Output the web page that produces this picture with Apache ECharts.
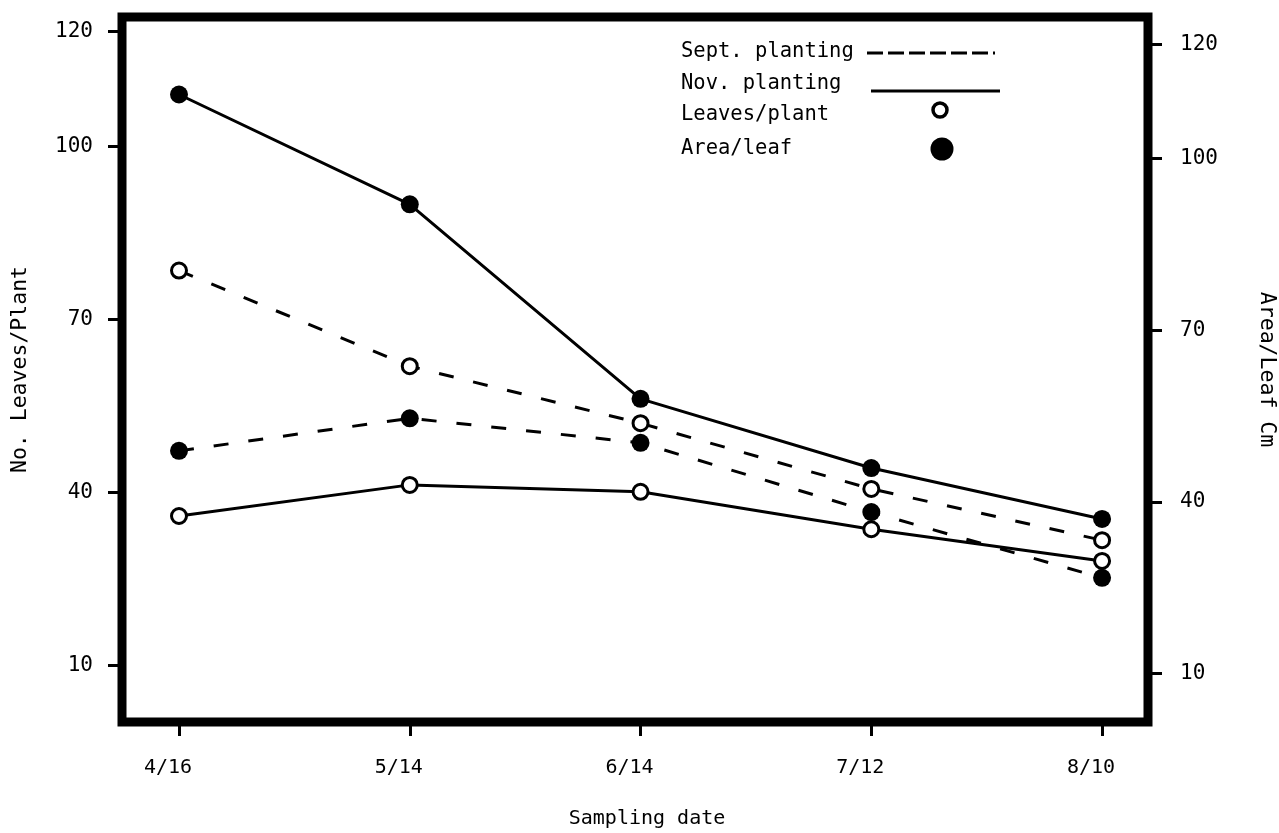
<!DOCTYPE html>
<html>
<head>
<meta charset="utf-8">
<script src="https://cdn.jsdelivr.net/npm/echarts@6/dist/echarts.min.js"></script>
<style>
  html, body { margin: 0; padding: 0; background: #fff; }
  #chart { width: 1279px; height: 833px; }
</style>
</head>
<body>
<div id="chart"></div>
<script>
// ---- data ----
const dates = ['4/16', '5/14', '6/14', '7/12', '8/10'];
const yTicks = [10, 40, 70, 100, 120];
// No. leaves per plant (left axis)
const septLeaves = [78.5, 61.9, 52.0, 40.6, 31.7];
const novLeaves  = [35.9, 41.3, 40.1, 33.6, 28.1];
// Area per leaf, cm (right axis)
const novArea  = [111.2, 92.0, 58.0, 45.9, 37.0];
const septArea = [48.9, 54.6, 50.3, 38.2, 26.7];

const FONT = '"DejaVu Sans Mono", "Liberation Mono", monospace';
const pairs = arr => arr.map((v, i) => [i, v]);

const filledSym = { color: '#000', borderColor: '#000', borderWidth: 0 };
const openSym = { color: '#fff', borderColor: '#000', borderWidth: 3 };

function mkSeries(name, data, axis, dashed, filled) {
  return {
    name: name,
    type: 'line',
    yAxisIndex: axis,
    data: pairs(data),
    symbol: 'circle',
    symbolSize: filled ? 18 : 15,
    showSymbol: true,
    lineStyle: { color: '#000', width: 3, type: dashed ? [15, 20] : 'solid' },
    itemStyle: filled ? filledSym : openSym,
    z: filled ? 3 : 4
  };
}

const chart = echarts.init(document.getElementById('chart'), null, { renderer: 'canvas' });

const yAxisCommon = {
  type: 'value',
  splitLine: { show: false },
  axisLine: { show: false, onZero: false },
  axisTick: { show: true, customValues: yTicks, length: 14, lineStyle: { color: '#000', width: 3 } },
  axisLabel: { customValues: yTicks, color: '#000', fontFamily: FONT, fontSize: 21 },
  nameLocation: 'middle',
  nameTextStyle: { color: '#000', fontFamily: FONT, fontSize: 21.5 }
};

chart.setOption({
  animation: false,
  backgroundColor: '#fff',
  grid: {
    left: 122, right: 131, top: 17, bottom: 111,
    containLabel: false,
    outerBoundsMode: 'none',
    show: true, borderColor: '#000', borderWidth: 9, backgroundColor: 'transparent'
  },
  xAxis: {
    type: 'value',
    min: -0.247, max: 4.199,
    splitLine: { show: false },
    axisLine: { show: false, onZero: false },
    axisTick: { show: true, customValues: [0, 1, 2, 3, 4], length: 14, lineStyle: { color: '#000', width: 3 } },
    axisLabel: {
      customValues: [0, 1, 2, 3, 4],
      formatter: v => dates[Math.round(v)],
      color: '#000', fontFamily: FONT, fontSize: 20, margin: 36,
      padding: [0, 22, 0, 0]
    },
    name: 'Sampling date',
    nameLocation: 'middle',
    nameGap: 87,
    nameTextStyle: { color: '#000', fontFamily: FONT, fontSize: 20, padding: [0, 0, 0, 24] }
  },
  yAxis: [
    Object.assign({}, yAxisCommon, {
      position: 'left', min: 0.15, max: 122.5,
      axisLabel: Object.assign({}, yAxisCommon.axisLabel, { margin: 29 }),
      name: 'No. Leaves/Plant', nameGap: 91, nameRotate: 90
    }),
    Object.assign({}, yAxisCommon, {
      position: 'right', min: 1.5, max: 124.75,
      axisLabel: Object.assign({}, yAxisCommon.axisLabel, { margin: 32 }),
      name: 'Area/Leaf Cm', nameGap: 108, nameRotate: -90
    })
  ],
  series: [
    mkSeries('Nov. planting Area/leaf', novArea, 1, false, true),
    mkSeries('Sept. planting Area/leaf', septArea, 1, true, true),
    mkSeries('Sept. planting Leaves/plant', septLeaves, 0, true, false),
    mkSeries('Nov. planting Leaves/plant', novLeaves, 0, false, false)
  ],
  graphic: [
    { type: 'text', x: 681, y: 52, style: { text: 'Sept. planting', fill: '#000', font: '20.5px ' + FONT, textVerticalAlign: 'middle' } },
    { type: 'line', shape: { x1: 867, y1: 53, x2: 995, y2: 53 }, style: { stroke: '#000', lineWidth: 3, lineDash: [16, 5] } },
    { type: 'text', x: 681, y: 84, style: { text: 'Nov. planting', fill: '#000', font: '20.5px ' + FONT, textVerticalAlign: 'middle' } },
    { type: 'line', shape: { x1: 871, y1: 91, x2: 1000, y2: 91 }, style: { stroke: '#000', lineWidth: 3 } },
    { type: 'text', x: 681, y: 115, style: { text: 'Leaves/plant', fill: '#000', font: '20.5px ' + FONT, textVerticalAlign: 'middle' } },
    { type: 'circle', shape: { cx: 940, cy: 110, r: 7 }, style: { fill: '#fff', stroke: '#000', lineWidth: 3.5 } },
    { type: 'text', x: 681, y: 149, style: { text: 'Area/leaf', fill: '#000', font: '20.5px ' + FONT, textVerticalAlign: 'middle' } },
    { type: 'circle', shape: { cx: 942, cy: 149, r: 11.5 }, style: { fill: '#000' } }
  ]
});
</script>
</body>
</html>
